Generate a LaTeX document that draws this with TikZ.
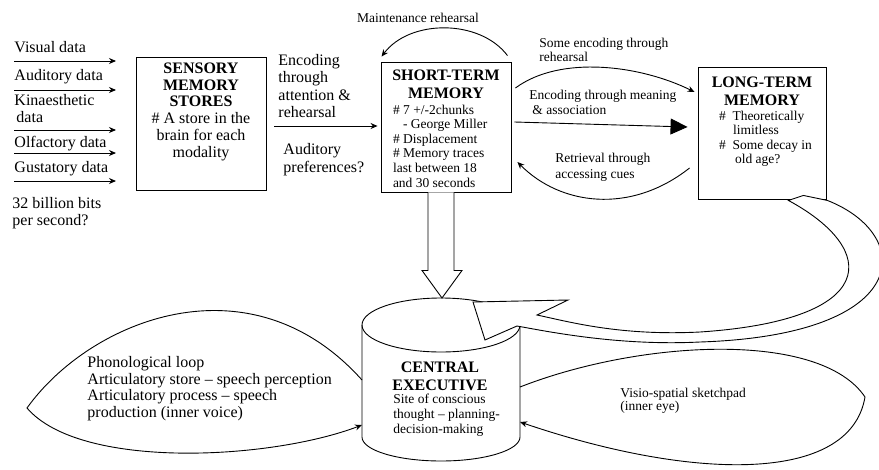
\documentclass[tikz,border=0pt]{standalone}
\usepackage{fontspec}
\setmainfont{Liberation Serif}
\usepackage{tikz}
\usetikzlibrary{positioning, calc, arrows.meta}

\tikzset{
  store/.style={draw, line width=0.9pt, fill=white, inner sep=0pt},
  txt/.style={font=\fontsize{16}{16.7}\selectfont, align=left, inner sep=0pt},
  ttl/.style={font=\fontsize{16}{18}\selectfont\bfseries, align=center, inner sep=0pt},
  body/.style={font=\fontsize{13.5}{14.6}\selectfont, align=left, inner sep=0pt},
  note/.style={font=\fontsize{13.5}{14.5}\selectfont, align=left, inner sep=0pt},
  thin arrow/.style={line width=0.9pt, -{Stealth[length=7pt, width=6pt]}},
  fat arrow/.style={line width=0.9pt, -{Triangle[length=17pt, width=16pt]}},
  block/.style={line width=0.9pt, fill=white, line join=miter},
}

\begin{document}
\begin{tikzpicture}[x=1pt, y=-1pt, line width=0.9pt]

		\useasboundingbox (0,0) rectangle (879,469);

		%// senses coming in
		\foreach \n/\yy/\bb/\tx in {vis/61/52/Visual data, aud/90/80/Auditory data, olf/153/147/Olfactory data, gus/181/172/Gustatory data}
		{
		\node [txt, anchor=base west] (\n) at (14,\bb) {\tx};
		\coordinate (\n a) at (14,\yy);
		\coordinate (\n b) at (116,\yy);
		\draw [thin arrow] (\n a) -- (\n b);
		}
		\node [txt, anchor=north west] (kin) at (14,94) {Kinaesthetic\\\hspace*{2pt}data};
		\coordinate (kina) at (14,130);
		\coordinate (kinb) at (116,130);
		\draw [thin arrow] (kina) -- (kinb);

		\node [txt, anchor=north west] (bits) at (12,197) {32 billion bits\\per second?};

		%// the three stores
		\node [store, minimum width=130pt, minimum height=133pt] (sens) at (201,123.5) {};
		\node [txt, align=center, below=6pt of sens.north] (sensT) {\textbf{SENSORY}\\\textbf{MEMORY}\\\textbf{STORES}\\\# A store in the\\brain for each\\modality};

		\node [store, minimum width=130pt, minimum height=130pt] (stm) at (446,127) {};
		\node [ttl, below=8pt of stm.north] (stmT) {SHORT-TERM\\MEMORY};
		\node [body, anchor=north west] (stmB) at ($(stm.west |- stmT.south)+(12,5)$) {\# 7 +/-2chunks\\\hspace*{10pt}- George Miller\\\# Displacement\\\# Memory traces\\last between 18\\and 30 seconds};

		\node [store, minimum width=128pt, minimum height=132pt] (ltm) at (762,133) {};
		\node [ttl, below=10pt of ltm.north] (ltmT) {LONG-TERM\\MEMORY};
		\node [body, anchor=north west] (ltmB) at ($(ltm.west |- ltmT.south)+(21,4)$) {\#\ \ Theoretically\\\hspace*{14pt}limitless\\\#\ \ Some decay in\\\hspace*{16pt}old age?};

		%// sensory -> STM
		\node [txt, anchor=north west, font=\fontsize{16}{17.4}\selectfont] (encT) at (278,54) {Encoding\\through\\attention \&\\rehearsal};
		\coordinate (encA) at (274,126);
		\draw [thin arrow] (encA) -- ($(stm.west)+(-3,-1)$);
		\node [txt, anchor=north west, font=\fontsize{16}{18}\selectfont] (audT) at (283,143) {Auditory\\preferences?};

		%// STM <-> LTM
		\draw [thin arrow] ($(stm.north east)+(-4,-6)$) .. controls (480,19) and (410,19) .. ($(stm.north west)+(1,-5)$);
		\node [note, anchor=base] (mrT) at (418,22) {Maintenance rehearsal};

		\draw [thin arrow] ($(stm.east)+(4,-39)$) .. controls (560,55) and (640,65) .. ($(ltm.west)+(-3,-41)$);
		\node [note, anchor=north west, font=\fontsize{13.5}{14}\selectfont] (seT) at (539,38) {Some encoding through\\rehearsal};

		\draw [fat arrow] ($(stm.east)+(3,-5)$) -- ($(ltm.west)+(-10,-6)$);
		\node [note, anchor=north west] (emT) at (529,90) {Encoding through meaning\\\hspace*{3pt}\& association};

		\draw [thin arrow] ($(ltm.west)+(-8,35)$) .. controls (630,215) and (560,205) .. ($(stm.east)+(6,35)$);
		\node [note, anchor=north west, font=\fontsize{13.5}{16}\selectfont] (rtT) at (555,153) {Retrieval through\\accessing cues};

		%// central executive
		\coordinate (ce) at (441,325);
		\draw [fill=white] ($(ce)+(-79,0)$) -- ($(ce)+(-79,112)$) arc [start angle=180, end angle=0, x radius=79, y radius=24] -- ($(ce)+(79,0)$);
		\draw (ce) ellipse [x radius=79, y radius=27];
		\node [ttl, anchor=north] (ceT) at ($(ce)+(-1,36)$) {CENTRAL\\EXECUTIVE};
		\node [note, anchor=north west, font=\fontsize{13.5}{15}\selectfont] (ceB) at ($(ce)+(-48,69)$) {Site of conscious\\thought -- planning-\\decision-making};

		\coordinate (ceN) at ($(ce)+(1,-27)$);
		\draw [block] ($(stm.south)+(-18,0)$) -- ++(0,78) -- ++(-6,0) -- (ceN) -- ($(stm.south)+(16,78)$) -- ++(-8,0) -- ($(stm.south)+(8,0)$);

		\draw [block] ($(ltm.south east)+(-38,1)$) -- ++(15,-5) -- ($(ltm.south east)+(1,1)$)
		.. controls (915,235) and (915,335) .. (700,342)
		.. controls (620,346) and (550,332) .. (517,326)
		-- (485,340) -- (473,302) -- (568,300) -- (537,315)
		.. controls (570,322) and (620,336) .. (700,332)
		.. controls (880,320) and (880,250) .. cycle;

		%// slave systems
		\coordinate (plA) at ($(ce)+(-79,55)$);
		\coordinate (plB) at ($(ce)+(-79,100)$);
		\coordinate (plTip) at (27,408);
		\draw [thin arrow] (plA) .. controls (250,255) and (90,320) .. (plTip) .. controls (80,470) and (270,460) .. (plB);
		\node [txt, anchor=north west, font=\fontsize{16}{16.5}\selectfont] (plT) at (87,356) {Phonological loop\\Articulatory store -- speech perception\\Articulatory process -- speech\\production (inner voice)};

		\coordinate (vsA) at ($(ce)+(79,62)$);
		\coordinate (vsB) at ($(ce)+(79,97)$);
		\coordinate (vsTip) at (865,397);
		\draw [thin arrow] (vsA) .. controls (640,340) and (820,330) .. (vsTip) .. controls (850,485) and (690,480) .. (vsB);
		\node [note, anchor=north west, font=\fontsize{13.5}{13}\selectfont] (vsT) at (620,388) {Visio-spatial sketchpad\\(inner eye)};

\end{tikzpicture}
\end{document}
